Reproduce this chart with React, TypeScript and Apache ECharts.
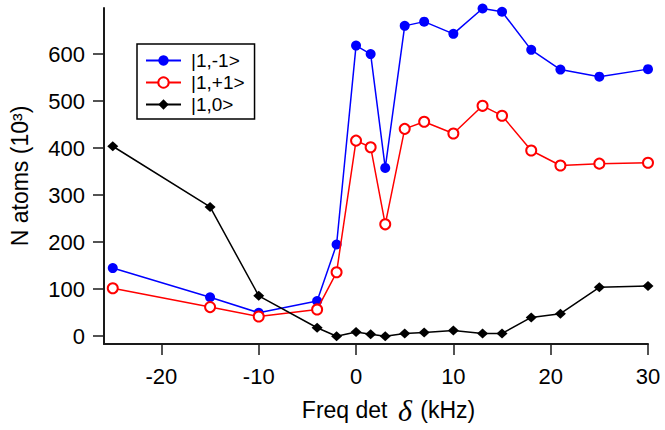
import React, { useEffect, useRef } from "react";
import * as echarts from "echarts";

// Detuning in kHz, atom numbers in units of 10^3
const detuning = [-25, -15, -10, -4, -2, 0, 1.5, 3, 5, 7, 10, 13, 15, 18, 21, 25, 30];
const stateMinus = [145, 83, 50, 75, 195, 618, 600, 358, 660, 669, 643, 697, 690, 609, 567, 552, 568];
const statePlus = [102, 62, 42, 57, 136, 416, 402, 238, 441, 456, 431, 490, 469, 395, 363, 367, 369];
const stateZero = [404, 275, 86, 18, 0, 9, 4, 0, 6, 8, 12, 6, 6, 40, 48, 104, 107];

const seriesNames = ["|1,-1>", "|1,+1>", "|1,0>"];
const xTicks = [-20, -10, 0, 10, 20, 30];
const yTicks = [0, 100, 200, 300, 400, 500, 600];

const FONT = "Liberation Sans, Arial, Helvetica, sans-serif";

const pairs = (ys: number[]) => detuning.map((x, i) => [x, ys[i]]);

export default function App() {
  const ref = useRef<HTMLDivElement>(null);

  useEffect(() => {
    document.body.style.margin = "0";
    if (!ref.current) return;
    const chart = echarts.init(ref.current, null, { renderer: "svg" });

    const axisCommon = {
      axisLine: { show: true, onZero: false, lineStyle: { color: "#1a1a1a", width: 2 } },
      axisTick: { show: true, inside: false, length: 11, lineStyle: { color: "#1a1a1a", width: 1.5 } },
      splitLine: { show: false },
    };

    chart.setOption({
      animation: false,
      backgroundColor: "#ffffff",
      grid: { left: 101, right: 17, top: 8, bottom: 84.5, containLabel: false },
      legend: {
        left: 137,
        top: 44,
        orient: "vertical",
        data: seriesNames,
        backgroundColor: "#ffffff",
        borderColor: "#000000",
        borderWidth: 1.5,
        borderRadius: 0,
        padding: [7, 10, 5, 8],
        itemWidth: 35,
        itemHeight: 13,
        itemGap: 3,
        textStyle: {
          fontFamily: FONT,
          fontSize: 19,
          color: "#000",
          lineHeight: 19,
          padding: [0, 0, 0, 5],
        },
      },
      xAxis: {
        type: "value",
        min: -25.9,
        max: 30,
        ...axisCommon,
        axisTick: { ...axisCommon.axisTick, customValues: xTicks },
        axisLabel: {
          customValues: xTicks,
          fontFamily: FONT,
          fontSize: 22,
          color: "#000",
          margin: 21,
        },
        name: "Freq det {d|δ} (kHz)",
        nameLocation: "middle",
        nameGap: 51,
        nameTextStyle: {
          fontFamily: FONT,
          fontSize: 23,
          color: "#000",
          padding: [0, 0, 0, 25],
          rich: {
            d: {
              fontFamily: "Liberation Serif, DejaVu Serif, serif",
              fontStyle: "italic",
              fontSize: 30,
              color: "#000",
              padding: [0, 2, 0, 4],
            },
          },
        },
      },
      yAxis: {
        type: "value",
        min: -16.5,
        max: 698,
        ...axisCommon,
        axisTick: { ...axisCommon.axisTick, customValues: yTicks },
        axisLabel: {
          customValues: yTicks,
          fontFamily: FONT,
          fontSize: 22,
          color: "#000",
          margin: 19,
        },
        name: "N atoms (10³)",
        nameLocation: "middle",
        nameRotate: 90,
        nameGap: 73,
        nameTextStyle: { fontFamily: FONT, fontSize: 23, color: "#000" },
      },
      series: [
        {
          name: seriesNames[0],
          type: "line",
          data: pairs(stateMinus),
          symbol: "circle",
          symbolSize: 10,
          itemStyle: { color: "#0000ff" },
          lineStyle: { color: "#0000ff", width: 1.5 },
          z: 2,
        },
        {
          name: seriesNames[1],
          type: "line",
          data: pairs(statePlus),
          symbol: "emptyCircle",
          symbolSize: 10,
          itemStyle: { color: "#ff0000", borderWidth: 1.6 },
          lineStyle: { color: "#ff0000", width: 1.5 },
          z: 3,
        },
        {
          name: seriesNames[2],
          type: "line",
          data: pairs(stateZero),
          symbol: "diamond",
          symbolSize: [11, 10],
          itemStyle: { color: "#000000" },
          lineStyle: { color: "#000000", width: 1.5 },
          z: 4,
        },
      ],
    });

    return () => chart.dispose();
  }, []);

  return <div ref={ref} style={{ width: 665, height: 430 }} />;
}
